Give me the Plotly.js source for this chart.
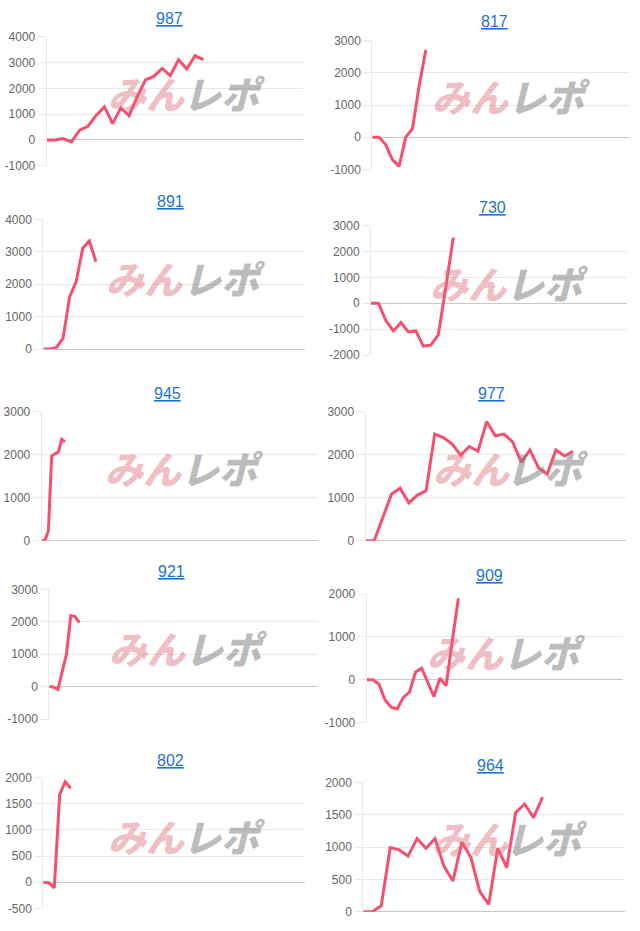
<!DOCTYPE html>
<html><head><meta charset="utf-8">
<script src="https://cdn.plot.ly/plotly-3.0.1.min.js"></script>
<style>html,body{margin:0;padding:0;background:#fff}#chart{width:640px;height:931px}</style>
</head><body><div id="chart"></div>
<script>
// ---- data ----
const titles = ["987","817","891","730","945","977","921","909","802","964"];
const s987 = [0,0,50,-80,375,530,950,1280,630,1240,940,1690,2330,2460,2770,2490,3110,2750,3260,3110];
const s817 = [0,0,-230,-700,-910,0,260,1600,2715];
const s891 = [0,0,50,330,1610,2080,3110,3330,2690];
const s730 = [0,0,-680,-1070,-750,-1110,-1070,-1660,-1620,-1220,600,2540];
const s945 = [0,15,230,1970,2020,2060,2360,2300];
const s977 = [0,0,540,1080,1220,880,1060,1160,2480,2400,2250,1990,2190,2080,2770,2440,2480,2300,1820,2110,1690,1550,2110,1970,2080];
const s921 = [0,-20,-90,500,1000,2190,2160,1970];
const s909 = [0,0,-100,-470,-640,-680,-410,-290,180,270,-60,-390,40,-140,900,1900];
const s802 = [0,-10,-110,1680,1920,1800];
const s964 = [0,0,90,990,955,860,1130,980,1130,700,475,1075,840,310,115,980,680,1535,1665,1455,1770];

const ticks987 = [-1000,0,1000,2000,3000,4000];
const ticks817 = [-1000,0,1000,2000,3000];
const ticks891 = [0,1000,2000,3000,4000];
const ticks730 = [-2000,-1000,0,1000,2000,3000];
const ticks945 = [0,1000,2000,3000];
const ticks977 = [0,1000,2000,3000];
const ticks921 = [-1000,0,1000,2000,3000];
const ticks909 = [-1000,0,1000,2000];
const ticks802 = [-500,0,500,1000,1500,2000];
const ticks964 = [0,500,1000,1500,2000];

// ---- layout geometry (pixels) ----
const W = 640, H = 931;
const panels = [
  {data:s987, ticks:ticks987, px:[46.7,303], py:[36.7,165.7], xmax:31.1, t:[169,18.3], wm:[145,226,92]},
  {data:s817, ticks:ticks817, px:[372.3,630], py:[40.7,169.3], xmax:38.5, t:[494,21.7], wm:[469,551,96]},
  {data:s891, ticks:ticks891, px:[43.3,305], py:[219.3,349], xmax:39.8, t:[170,201.7], wm:[143,226,277]},
  {data:s730, ticks:ticks730, px:[371,626.7], py:[225.7,355], xmax:34.2, t:[492.7,207.7], wm:[467,549,282]},
  {data:s945, ticks:ticks945, px:[41.7,318], py:[411.7,540.7], xmax:83, t:[167.7,393.3], wm:[142,224,467]},
  {data:s977, ticks:ticks977, px:[365.5,626], py:[411.7,540.7], xmax:30.1, t:[491.7,393.3], wm:[470,549,467]},
  {data:s921, ticks:ticks921, px:[49.3,318], py:[589.3,719], xmax:62.6, t:[171.7,571.7], wm:[146,228,647]},
  {data:s909, ticks:ticks909, px:[366.7,623.3], py:[594,722.7], xmax:42, t:[489.3,575.7], wm:[464,546,651]},
  {data:s802, ticks:ticks802, px:[43.3,305], py:[777.7,908.3], xmax:47.8, t:[170,760], wm:[145,226,835]},
  {data:s964, ticks:ticks964, px:[363.3,625], py:[782.3,911.7], xmax:29.2, t:[490,765], wm:[469,548,837]}
];

const traces = [];
const layout = {
  width: W, height: H,
  margin: {l:0, r:0, t:0, b:0},
  paper_bgcolor: '#fff', plot_bgcolor: '#fff',
  showlegend: false,
  hovermode: false,
  annotations: []
};
const fontFam = 'Liberation Sans, Arial, sans-serif';

panels.forEach((p, i) => {
  const n = i + 1;
  const xa = 'x' + (n === 1 ? '' : n), ya = 'y' + (n === 1 ? '' : n);
  const xk = 'xaxis' + (n === 1 ? '' : n), yk = 'yaxis' + (n === 1 ? '' : n);
  traces.push({
    type: 'scatter', mode: 'lines',
    x: p.data.map((_, k) => k), y: p.data,
    xaxis: xa, yaxis: ya,
    line: {color: '#f5506e', width: 3},
    cliponaxis: false
  });
  layout[xk] = {
    domain: [p.px[0] / W, p.px[1] / W],
    anchor: ya,
    range: [0, p.xmax],
    showgrid: false, zeroline: false, showline: false,
    showticklabels: false, ticks: '', fixedrange: true
  };
  layout[yk] = {
    domain: [1 - p.py[1] / H, 1 - p.py[0] / H],
    anchor: xa,
    range: [p.ticks[0], p.ticks[p.ticks.length - 1]],
    tickmode: 'array',
    tickvals: p.ticks,
    ticktext: p.ticks.map(v => String(v)),
    showgrid: true, gridcolor: '#e8e8e8', gridwidth: 1,
    zeroline: true, zerolinecolor: '#c8c8c8', zerolinewidth: 1,
    showline: true, linecolor: '#e8e8e8', linewidth: 1,
    ticks: 'outside', ticklen: 8, tickcolor: '#e8e8e8', tickwidth: 1,
    tickfont: {family: fontFam, size: 12, color: '#666'},
    fixedrange: true
  };
  layout.annotations.push({
    xref: 'paper', yref: 'paper',
    x: p.t[0] / W, y: 1 - p.t[1] / H,
    xanchor: 'center', yanchor: 'middle',
    text: '<u>' + titles[i] + '</u>',
    showarrow: false,
    font: {family: fontFam, size: 16, color: '#1e73d2'}
  });
  layout.annotations.push({
    xref: 'paper', yref: 'paper',
    x: (p.wm[0] + 2) / W, y: 1 - p.wm[2] / H,
    xanchor: 'center', yanchor: 'middle',
    text: 'みん', showarrow: false,
    font: {family: 'Noto Sans CJK JP', size: 38, weight: 900, style: 'italic', color: 'rgba(222,110,122,0.45)'}
  });
  layout.annotations.push({
    xref: 'paper', yref: 'paper',
    x: (p.wm[1] - 2) / W, y: 1 - p.wm[2] / H,
    xanchor: 'center', yanchor: 'middle',
    text: 'レポ', showarrow: false,
    font: {family: 'Noto Sans CJK JP', size: 38, weight: 900, style: 'italic', color: 'rgba(130,130,130,0.55)'}
  });
});

Plotly.newPlot('chart', traces, layout, {staticPlot: true, displayModeBar: false});
</script>
</body></html>
